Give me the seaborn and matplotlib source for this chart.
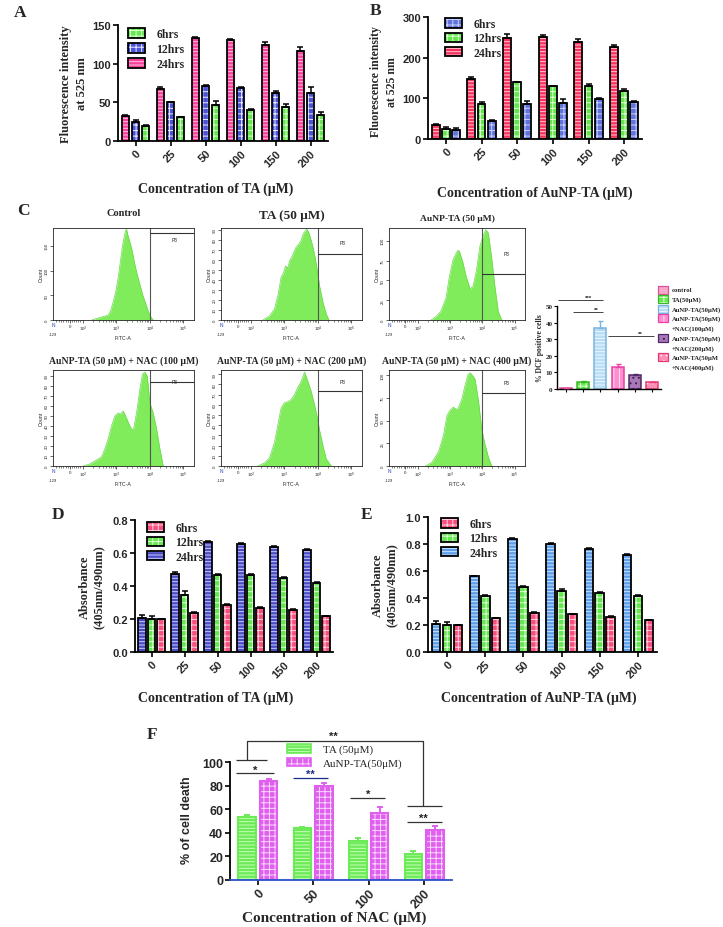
import numpy as np
import pandas as pd
import matplotlib
matplotlib.use('Agg')
import matplotlib.pyplot as plt
import matplotlib.patches as mpatches
import matplotlib.colors as mcolors
import seaborn as sns

# ---------------- data ----------------
conc = ['0', '25', '50', '100', '150', '200']

# Panel A : TA, fluorescence intensity at 525 nm
A_24 = [32, 67, 133, 131, 124, 117]
A_12 = [25, 50, 71, 68, 62, 62]
A_6 = [20, 31, 46, 40, 44, 33]
A_24_err = [1, 3, 2, 1, 4, 4]
A_12_err = [2.5, 1, 2, 1.5, 3, 8]
A_6_err = [1, 0.5, 6, 1.5, 4, 4]

# Panel B : AuNP-TA, fluorescence intensity
B_24 = [34, 148, 249, 251, 238, 226]
B_12 = [25, 85, 139, 130, 130, 117]
B_6 = [22, 44, 85, 89, 99, 92]
B_24_err = [3, 5, 8, 5, 8, 6]
B_12_err = [5, 6, 2, 1, 6, 6]
B_6_err = [4, 2, 8, 10, 2, 1]

# Panel D : TA, absorbance
D_24 = [0.207, 0.47, 0.665, 0.655, 0.637, 0.62]
D_12 = [0.197, 0.345, 0.468, 0.468, 0.45, 0.418]
D_6 = [0.198, 0.237, 0.283, 0.268, 0.256, 0.217]
D_24_err = [0.02, 0.012, 0.006, 0.008, 0.004, 0.006]
D_12_err = [0.022, 0.025, 0.006, 0.003, 0.006, 0.006]
D_6_err = [0.004, 0.003, 0.005, 0.005, 0.006, 0.004]

# Panel E : AuNP-TA, absorbance
E_24 = [0.206, 0.56, 0.835, 0.798, 0.762, 0.718]
E_12 = [0.198, 0.415, 0.484, 0.452, 0.437, 0.415]
E_6 = [0.198, 0.25, 0.288, 0.278, 0.26, 0.236]
E_24_err = [0.02, 0.004, 0.012, 0.008, 0.012, 0.006]
E_12_err = [0.022, 0.004, 0.006, 0.016, 0.004, 0.006]
E_6_err = [0.004, 0.004, 0.006, 0.006, 0.006, 0.004]

# Panel C : flow cytometry histograms (x in decades of FITC-A, y = count)
ctrl_x = [2.26, 2.45, 2.6, 2.75, 2.82, 2.9, 2.98, 3.05, 3.12, 3.18, 3.23, 3.27, 3.3, 3.34, 3.4, 3.47, 3.55, 3.62, 3.7, 3.78, 3.86, 3.94, 4.02, 4.1]
ctrl_y = [0, 4, 7, 10, 18, 36, 58, 85, 120, 150, 168, 180, 184, 172, 158, 140, 112, 92, 72, 52, 36, 20, 7, 0]
ta_x = [2.35, 2.55, 2.7, 2.8, 2.9, 2.97, 3.03, 3.1, 3.15, 3.22, 3.28, 3.35, 3.43, 3.5, 3.56, 3.62, 3.67, 3.72, 3.78, 3.85, 3.92, 3.98, 4.05, 4.15, 4.25, 4.33]
ta_y = [0, 4, 11, 24, 43, 47, 54, 52, 59, 63, 68, 73, 76, 80, 86, 89, 91, 88, 82, 73, 62, 50, 34, 18, 6, 0]
au_x = [2.4, 2.55, 2.71, 2.87, 2.97, 3.08, 3.18, 3.24, 3.29, 3.39, 3.5, 3.62, 3.71, 3.81, 3.92, 4.02, 4.1, 4.18, 4.28, 4.39, 4.49, 4.6]
au_y = [0, 4, 11, 28, 54, 75, 84, 88, 86, 73, 54, 39, 43, 62, 93, 106, 114, 110, 80, 41, 11, 0]
n100_x = [2.0, 2.2, 2.4, 2.55, 2.65, 2.75, 2.85, 2.95, 3.05, 3.12, 3.2, 3.3, 3.4, 3.5, 3.6, 3.7, 3.78, 3.85, 3.92, 4.0, 4.1, 4.2, 4.3, 4.4]
n100_y = [0, 2, 6, 9, 17, 27, 40, 50, 53, 52, 55, 48, 40, 35, 53, 77, 92, 94, 90, 63, 53, 37, 17, 0]
n200_x = [2.2, 2.4, 2.55, 2.7, 2.8, 2.9, 3.0, 3.1, 3.2, 3.3, 3.4, 3.5, 3.6, 3.7, 3.8, 3.9, 3.98, 4.05, 4.15, 4.25, 4.4]
n200_y = [0, 3, 8, 23, 40, 57, 62, 63, 65, 70, 77, 83, 92, 83, 73, 60, 48, 35, 20, 7, 0]
n400_x = [2.23, 2.43, 2.64, 2.79, 2.9, 3.0, 3.1, 3.2, 3.26, 3.36, 3.46, 3.55, 3.62, 3.69, 3.77, 3.88, 3.98, 4.08, 4.19, 4.29]
n400_y = [0, 4, 16, 34, 56, 62, 65, 62, 65, 74, 89, 101, 103, 100, 96, 71, 40, 24, 9, 0]

flow_titles = ['Control', 'TA (50 \u03bcM)', 'AuNP-TA (50 \u03bcM)',
               'AuNP-TA (50 \u03bcM) + NAC (100 \u03bcM)',
               'AuNP-TA (50 \u03bcM) + NAC (200 \u03bcM)',
               'AuNP-TA (50 \u03bcM) + NAC (400 \u03bcM)']
flow_ymax = [186, 92, 116, 96, 94, 106]
flow_yticks = [[0, 50, 100, 150], list(range(0, 91, 10)), [0, 25, 50, 75, 100],
               list(range(0, 91, 10)), list(range(0, 91, 10)), [0, 25, 50, 75, 100]]
flow_gate_y = [176, 66, 58, 84, 73, 81]

# Panel C : % DCF positive cells
dcf_groups = ['control', 'TA(50\u03bcM)', 'AuNP-TA(50\u03bcM)',
              'AuNP-TA(50\u03bcM)\n+NAC(100\u03bcM)', 'AuNP-TA(50\u03bcM)\n+NAC(200\u03bcM)',
              'AuNP-TA(50\u03bcM\n+NAC(400\u03bcM)']
dcf_vals = [0.7, 4.5, 37, 13, 8.5, 4.2]
dcf_err = [0.1, 0.3, 4, 2, 0.4, 0.3]

# Panel F : % of cell death
nac = ['0', '50', '100', '200']
F_TA = [53, 44, 33, 22]
F_Au = [84, 80, 57, 42]
F_TA_err = [2, 1, 3, 3]
F_Au_err = [1.5, 2.5, 5, 4]

# ---------------- setup ----------------
W, H = 723, 928
sns.set_theme(style='ticks')
plt.rcParams['font.family'] = ['Liberation Sans', 'DejaVu Sans']
plt.rcParams['hatch.linewidth'] = 0.7
SERIF = ['Liberation Serif', 'DejaVu Serif']

fig = plt.figure(figsize=(W / 100, H / 100), dpi=100)


def rect(x0, y0, x1, y1):
    return [x0 / W, 1 - y1 / H, (x1 - x0) / W, (y1 - y0) / H]


def fx(x):
    return x / W


def fy(y):
    return 1 - y / H


def set_hc(p, c):
    if hasattr(p, 'set_hatchcolor'):
        try:
            p.set_hatchcolor(c)
            return
        except Exception:
            pass
    p._hatch_color = mcolors.to_rgba(c)


def ftext(x, y, s, size, family=SERIF, weight='bold', **kw):
    fig.text(fx(x), fy(y), s, fontsize=size, family=family, weight=weight,
             ha=kw.pop('ha', 'center'), va=kw.pop('va', 'center'), **kw)


def style_axis(ax, ylim, yticks, fmt=None, labelsize=8):
    ax.set_ylim(*ylim)
    ax.set_yticks(yticks)
    if fmt:
        ax.set_yticklabels([fmt.format(t) for t in yticks])
    sns.despine(ax=ax)
    for s in ['left', 'bottom']:
        ax.spines[s].set_linewidth(1.3)
        ax.spines[s].set_color('black')
    ax.tick_params(axis='both', direction='out', length=3.5, width=1.2, color='black',
                   labelsize=labelsize, pad=1.5)
    for lbl in ax.get_yticklabels() + ax.get_xticklabels():
        lbl.set_fontweight('bold')
    ax.set_xlabel('')
    ax.set_ylabel('')
    ax.set_facecolor('white')


def grouped(ax, values, errors, hue_order, colors, hatches, hcolors, cats, width=0.86, gap=0.22):
    rows = []
    for t in hue_order:
        for c, v in zip(cats, values[t]):
            rows.append({'conc': c, 'time': t, 'value': v})
    df = pd.DataFrame(rows)
    sns.barplot(data=df, x='conc', y='value', hue='time', order=cats, hue_order=hue_order,
                palette=colors, width=width, gap=gap, edgecolor='black', linewidth=1.3,
                errorbar=None, legend=False, ax=ax, saturation=1)
    conts = list(ax.containers)
    for t, cont in zip(hue_order, conts):
        for bar, e in zip(cont, errors[t]):
            bar.set_hatch(hatches[t])
            set_hc(bar, hcolors[t])
            x = bar.get_x() + bar.get_width() / 2
            ax.errorbar(x, bar.get_height(), yerr=[[0], [e]], color='black', capsize=2.2,
                        elinewidth=1.1, capthick=1.1, zorder=3)
    ax.set_xlim(-0.5, len(cats) - 0.5)


def add_legend(ax, order, colors, hatches, hcolors, x, y, size=8.5, family=SERIF, weight='bold',
               spacing=0.25, hl=1.4, hh=0.85, lw=1.3, edge='black'):
    handles = []
    for t in order:
        p = mpatches.Patch(facecolor=colors[t], edgecolor=edge, hatch=hatches[t], linewidth=lw)
        set_hc(p, hcolors[t])
        handles.append(p)
    leg = ax.legend(handles, order, loc='upper left', bbox_to_anchor=(fx(x), fy(y)),
                    bbox_transform=fig.transFigure, frameon=False,
                    prop={'family': family, 'weight': weight, 'size': size},
                    handlelength=hl, handleheight=hh, labelspacing=spacing,
                    handletextpad=1.0, borderpad=0, borderaxespad=0)
    for p, t in zip(leg.get_patches(), order):
        set_hc(p, hcolors[t])
    return leg


def rot_xticks(ax, size=8):
    ax.set_xticks(range(len(ax.get_xticklabels())))
    for lbl in ax.get_xticklabels():
        lbl.set_rotation(45)
        lbl.set_ha('right')
        lbl.set_rotation_mode('anchor')
        lbl.set_fontweight('bold')
        lbl.set_fontsize(size)


# ---------------- Panel A ----------------
axA = fig.add_axes(rect(118, 26, 328, 142))
order = ['24hrs', '12hrs', '6hrs']
colA = {'24hrs': '#f7409c', '12hrs': '#4b52d8', '6hrs': '#66e650'}
hatA = {'24hrs': '-----', '12hrs': '+++', '6hrs': '+++'}
hcA = {'24hrs': '#ffc0e0', '12hrs': '#e8eaff', '6hrs': '#d8ffcc'}
grouped(axA, {'24hrs': A_24, '12hrs': A_12, '6hrs': A_6},
        {'24hrs': A_24_err, '12hrs': A_12_err, '6hrs': A_6_err}, order, colA, hatA, hcA, conc)
style_axis(axA, (0, 150), [0, 50, 100, 150])
rot_xticks(axA)
add_legend(axA, ['6hrs', '12hrs', '24hrs'], colA, hatA, hcA, 128, 29)

# ---------------- Panel B ----------------
axB = fig.add_axes(rect(428, 18, 642, 140))
colB = {'24hrs': '#f8325e', '12hrs': '#62e64c', '6hrs': '#6274dc'}
hatB = {'24hrs': '-----', '12hrs': '+++', '6hrs': '+++'}
hcB = {'24hrs': '#ffc8d4', '12hrs': '#e0ffd8', '6hrs': '#c8d0ff'}
grouped(axB, {'24hrs': B_24, '12hrs': B_12, '6hrs': B_6},
        {'24hrs': B_24_err, '12hrs': B_12_err, '6hrs': B_6_err}, order, colB, hatB, hcB, conc)
style_axis(axB, (0, 300), [0, 100, 200, 300])
rot_xticks(axB)
add_legend(axB, ['6hrs', '12hrs', '24hrs'], colB, hatB, hcB, 445, 19, spacing=0.2)

# ---------------- Panel D ----------------
axD = fig.add_axes(rect(135, 521, 333, 653))
colD = {'24hrs': '#4a4cc4', '12hrs': '#66e650', '6hrs': '#f8507e'}
hatD = {'24hrs': '-----', '12hrs': '+++', '6hrs': '+++'}
hcD = {'24hrs': '#c8ccff', '12hrs': '#e0ffd8', '6hrs': '#ffd0dc'}
grouped(axD, {'24hrs': D_24, '12hrs': D_12, '6hrs': D_6},
        {'24hrs': D_24_err, '12hrs': D_12_err, '6hrs': D_6_err}, order, colD, hatD, hcD, conc)
style_axis(axD, (0, 0.8), [0, 0.2, 0.4, 0.6, 0.8], fmt='{:.1f}')
rot_xticks(axD)
add_legend(axD, ['6hrs', '12hrs', '24hrs'], colD, hatD, hcD, 147, 523, spacing=0.2)

# ---------------- Panel E ----------------
axE = fig.add_axes(rect(428, 518, 657, 653))
colE = {'24hrs': '#5c9ee8', '12hrs': '#66e650', '6hrs': '#f8507e'}
hatE = {'24hrs': '-----', '12hrs': '+++', '6hrs': '+++'}
hcE = {'24hrs': '#d0e4ff', '12hrs': '#e0ffd8', '6hrs': '#ffd0dc'}
grouped(axE, {'24hrs': E_24, '12hrs': E_12, '6hrs': E_6},
        {'24hrs': E_24_err, '12hrs': E_12_err, '6hrs': E_6_err}, order, colE, hatE, hcE, conc)
style_axis(axE, (0, 1.0), [0, 0.2, 0.4, 0.6, 0.8, 1.0], fmt='{:.1f}')
rot_xticks(axE)
add_legend(axE, ['6hrs', '12hrs', '24hrs'], colE, hatE, hcE, 441, 519, spacing=0.2)

# ---------------- Panel F ----------------
axF = fig.add_axes(rect(230, 763, 452, 881))
colF = {'TA (50\u03bcM)': '#6cea58', 'AuNP-TA(50\u03bcM)': '#e060ee'}
hatF = {'TA (50\u03bcM)': '-----', 'AuNP-TA(50\u03bcM)': '+++'}
hcF = {'TA (50\u03bcM)': '#c8ffb8', 'AuNP-TA(50\u03bcM)': '#fad8ff'}
fkeys = list(colF.keys())
rowsF = []
for grpF, vals in zip(fkeys, [F_TA, F_Au]):
    for c, v in zip(nac, vals):
        rowsF.append({'nac': c, 'grp': grpF, 'value': v})
dfF = pd.DataFrame(rowsF)
sns.barplot(data=dfF, x='nac', y='value', hue='grp', order=nac, hue_order=fkeys,
            palette=colF, width=0.78, gap=0.2, linewidth=1.5, errorbar=None,
            legend=False, ax=axF, saturation=1)
for k, cont, errs in zip(fkeys, list(axF.containers), [F_TA_err, F_Au_err]):
    for bar, e in zip(cont, errs):
        bar.set_edgecolor(colF[k])
        bar.set_hatch(hatF[k])
        set_hc(bar, hcF[k])
        x = bar.get_x() + bar.get_width() / 2
        axF.errorbar(x, bar.get_height(), yerr=[[0], [e]], color=colF[k], capsize=2.5,
                     elinewidth=1.4, capthick=1.4, zorder=3)
axF.set_xlim(-0.5, 3.5)
style_axis(axF, (0, 100), [0, 20, 40, 60, 80, 100], labelsize=9)
axF.spines['bottom'].set_color('#2a4fc8')
rot_xticks(axF, size=9)
add_legend(axF, fkeys, colF, hatF, hcF, 287, 745, size=8, weight='normal', spacing=0.3,
           hl=2.2, hh=0.8, lw=1.2, edge='#999999')
for h, k in zip(axF.get_legend().get_patches(), fkeys):
    h.set_edgecolor(colF[k])
    set_hc(h, hcF[k])

# significance marks in F (data coordinates)
sigc = '#333333'
def sline(ax, xs, ys, c=sigc, lw=0.9):
    ax.plot(xs, ys, color=c, lw=lw, clip_on=False, solid_capstyle='butt')

sline(axF, [-0.39, 0.29], [90.7, 90.7])
axF.text(-0.05, 93.5, '*', ha='center', va='center', fontsize=8, weight='bold', color='#222')
sline(axF, [-0.39, 0.17], [101.7, 101.7])
sline(axF, [-0.19, -0.19, 2.98, 2.98], [101.7, 117.8, 117.8, 62.7])
sline(axF, [2.69, 3.32], [62.7, 62.7])
axF.text(1.36, 122, '**', ha='center', va='center', fontsize=8, weight='bold', color='#222')
sline(axF, [0.64, 1.27], [86.4, 86.4], c='#1a2a8a')
axF.text(0.94, 90, '**', ha='center', va='center', fontsize=8, weight='bold', color='#1a2a8a')
sline(axF, [1.66, 2.29], [69.5, 69.5])
axF.text(1.99, 73, '*', ha='center', va='center', fontsize=8, weight='bold', color='#222')
sline(axF, [2.69, 3.32], [49.2, 49.2])
axF.text(2.98, 53, '**', ha='center', va='center', fontsize=8, weight='bold', color='#222')

# ---------------- Panel C : flow histograms ----------------
flow_data = [(ctrl_x, ctrl_y), (ta_x, ta_y), (au_x, au_y),
             (n100_x, n100_y), (n200_x, n200_y), (n400_x, n400_y)]
cols_x = [(53, 194), (221, 362), (389, 525)]
rows_y = [(229, 321), (371, 467)]
title_y = [214, 216, 219, 361, 361, 361]
title_sz = [7.5, 9.5, 6.8, 7.0, 7.0, 7.0]
green = '#80ec5c'
minor = [1.2, 1.27, 1.34, 1.41, 1.48, 1.55, 1.66, 1.72, 1.78, 1.84, 1.9]
for d in range(2, 5):
    minor += [d + np.log10(m) for m in range(2, 10)]
for i, (xs, ys) in enumerate(flow_data):
    r, c = divmod(i, 3)
    x0, x1 = cols_x[c]
    y0, y1 = rows_y[r]
    ax = fig.add_axes(rect(x0, y0, x1, y1))
    ax.fill_between(xs, ys, 0, color=green, lw=0)
    sns.lineplot(x=xs, y=ys, ax=ax, color='#6ad84a', lw=0.5)
    ax.set_xlim(1.1, 5.32)
    ax.set_ylim(0, flow_ymax[i])
    ymax = flow_ymax[i]
    ax.axvline(4.0, color='#555555', lw=0.8)
    ax.plot([4.0, 5.32], [flow_gate_y[i]] * 2, color='#333333', lw=0.8)
    ax.text(4.75, flow_gate_y[i] + (ymax - flow_gate_y[i]) * 0.45 if flow_gate_y[i] < 0.8 * ymax else ymax * 0.88,
            'P3', fontsize=3.5, ha='center', va='center')
    for s in ax.spines.values():
        s.set_linewidth(0.6)
        s.set_color('#222222')
    ax.set_xticks([1.6, 2, 3, 4, 5])
    ax.set_xticklabels(['0', '10$^2$', '10$^3$', '10$^4$', '10$^5$'])
    ax.set_xticks(minor, minor=True)
    ax.set_yticks(flow_yticks[i])
    ax.set_yticklabels([str(t) for t in flow_yticks[i]], rotation=90, va='center')
    ax.tick_params(axis='both', which='major', labelsize=3.2, length=2, width=0.5, pad=1)
    ax.tick_params(axis='x', which='minor', length=1.3, width=0.4)
    ax.set_xlabel('FITC-A', fontsize=3.8, labelpad=1)
    ax.set_ylabel('Count', fontsize=3.8, labelpad=1)
    ax.text(1.1, -0.13 * ymax, '-129', fontsize=3, ha='center', va='top')
    ax.text(1.1, -0.02 * ymax, 'N', fontsize=3.5, ha='center', va='top', color='#2040c0')
    ax.set_facecolor('white')
    ftext((x0 + x1) / 2, title_y[i], flow_titles[i], title_sz[i])

# ---------------- Panel C : DCF bar chart ----------------
axC = fig.add_axes(rect(557, 307, 661, 390))
dcf_col = ['#f7a8c8', '#66e650', '#b8dcf4', '#ff8ed0', '#a878b8', '#ff90b4']
dcf_edge = ['#e05098', '#38b828', '#78b4e0', '#e840a8', '#502868', '#e83874']
dcf_hat = ['', '+++', '-----', '|||', '...', '...']
dcf_hc = ['#ffffff', '#e0ffd8', '#eef8ff', '#ffe0f4', '#402050', '#ffe0ea']
dfC = pd.DataFrame({'grp': dcf_groups, 'value': dcf_vals})
sns.barplot(data=dfC, x='grp', y='value', hue='grp', order=dcf_groups, hue_order=dcf_groups,
            palette=dict(zip(dcf_groups, dcf_col)), width=0.68, linewidth=1.1,
            errorbar=None, legend=False, ax=axC, saturation=1)
for j, cont in enumerate(list(axC.containers)):
    for bar in cont:
        if bar.get_height() == 0 or np.isnan(bar.get_height()):
            continue
        bar.set_edgecolor(dcf_edge[j])
        bar.set_hatch(dcf_hat[j])
        set_hc(bar, dcf_hc[j])
        x = bar.get_x() + bar.get_width() / 2
        axC.errorbar(x, bar.get_height(), yerr=[[0], [dcf_err[j]]], color=dcf_edge[j],
                     capsize=1.8, elinewidth=1.0, capthick=1.0, zorder=3)
axC.set_xlim(-0.5, 5.5)
axC.set_ylim(0, 50)
axC.set_yticks([0, 10, 20, 30, 40, 50])
sns.despine(ax=axC)
for s in ['left', 'bottom']:
    axC.spines[s].set_linewidth(1.0)
    axC.spines[s].set_color('black')
axC.tick_params(axis='both', direction='out', length=2.2, width=0.8, color='black', labelsize=5, pad=1)
axC.set_xticks(range(6))
axC.set_xticklabels([])
for lbl in axC.get_yticklabels():
    lbl.set_fontweight('bold')
    lbl.set_family(SERIF)
axC.set_xlabel('')
axC.set_ylabel('')
axC.set_facecolor('white')
sline(axC, [-0.45, 2.15], [53.6, 53.6], c='#444444', lw=0.7)
sline(axC, [0.42, 2.15], [46.4, 46.4], c='#444444', lw=0.7)
sline(axC, [2.44, 5.1], [31.9, 31.9], c='#444444', lw=0.7)
axC.text(1.3, 55.3, '***', fontsize=4.5, ha='center', va='center', weight='bold')
axC.text(1.75, 48.2, '**', fontsize=4.5, ha='center', va='center', weight='bold')
axC.text(4.3, 33.7, '**', fontsize=4.5, ha='center', va='center', weight='bold')
ftext(540, 348, '% DCF positive cells', 5.5, rotation=90)

# DCF legend (manual)
leg_rows = [291, 300, 310, 319, 339, 358]
for j, (lab, yy) in enumerate(zip(dcf_groups, leg_rows)):
    p = mpatches.Rectangle((fx(658), fy(yy + 4)), 10 / W, 8 / H, transform=fig.transFigure,
                           facecolor=dcf_col[j], edgecolor=dcf_edge[j], lw=0.9, hatch=dcf_hat[j])
    set_hc(p, dcf_hc[j])
    fig.add_artist(p)
    for k, line in enumerate(lab.split('\n')):
        ftext(672, yy + k * 9.7, line, 4.8, ha='left')

# ---------------- axis labels and panel letters ----------------
ftext(216, 189, 'Concentration of TA (\u03bcM)', 10)
ftext(535, 193, 'Concentration of AuNP-TA (\u03bcM)', 10)
ftext(216, 698, 'Concentration of TA (\u03bcM)', 10)
ftext(539, 698, 'Concentration of AuNP-TA (\u03bcM)', 10)
ftext(334, 918, 'Concentration of NAC (\u03bcM)', 11)

ftext(74, 84, 'Fluorescence intensity\nat 525 nm', 9, rotation=90, linespacing=1.45)
ftext(384, 82, 'Fluorescence intensity\nat 525 nm', 8.5, rotation=90, linespacing=1.5)
ftext(92, 587, 'Absorbance\n(405nm/490nm)', 9, rotation=90, linespacing=1.3)
ftext(385, 585, 'Absorbance\n(405nm/490nm)', 9, rotation=90, linespacing=1.3)
ftext(187, 820, '% of cell death', 9, family=['Liberation Sans', 'DejaVu Sans'], rotation=90)

for letter, (lx, ly) in zip('ABCDEF', [(20, 13), (376, 11), (23, 211), (58, 515), (367, 515), (152, 735)]):
    ftext(lx, ly, letter, 12.5)

fig.savefig('out.png', dpi=100, facecolor='white')
